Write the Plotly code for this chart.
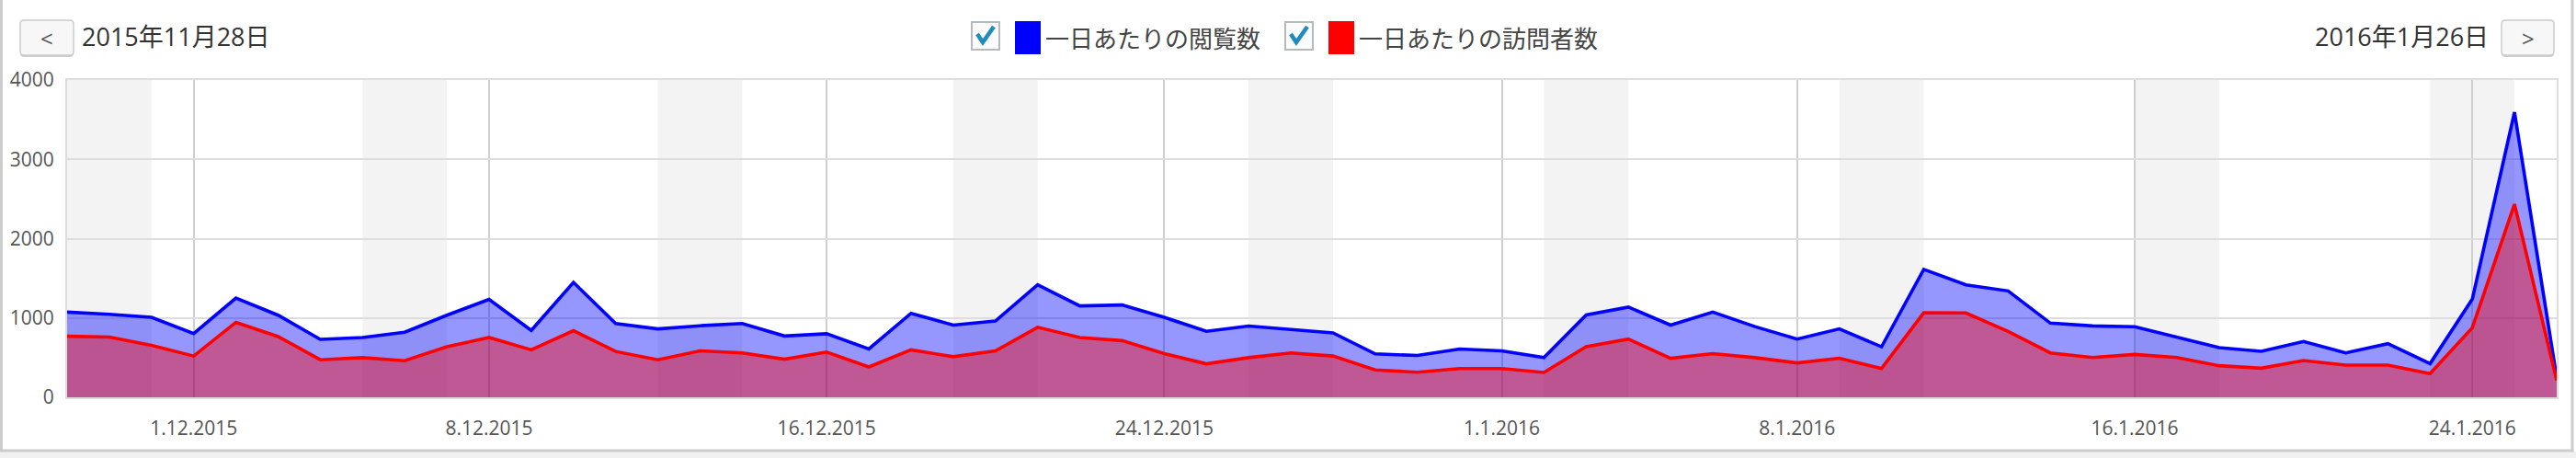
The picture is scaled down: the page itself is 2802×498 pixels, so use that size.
import plotly.graph_objects as go
import pandas as pd

# ---- data ----
dates = pd.date_range("2015-11-28", "2016-01-26", freq="D")

views = [1074, 1047, 1008, 805, 1250, 1035, 730, 754, 820, 1035, 1234, 844, 1449, 930, 863,
         902, 930, 773, 801, 609, 1059, 910, 961, 1418, 1152, 1164, 1008, 832, 898, 852,
         812, 547, 527, 609, 586, 500, 1039, 1137, 910, 1074, 891, 734, 863, 637, 1613,
         1418, 1341, 935, 900, 889, 761, 626, 580, 703, 560, 676, 425, 1237, 3594, 251]

visitors = [770, 760, 656, 520, 945, 766, 473, 500, 461, 637, 754, 598, 840, 578, 473,
            586, 559, 480, 570, 383, 598, 512, 586, 883, 754, 715, 551, 422, 500, 559,
            520, 344, 316, 363, 363, 313, 637, 734, 492, 551, 500, 434, 492, 363, 1066,
            1063, 831, 560, 502, 541, 502, 398, 367, 464, 406, 406, 298, 877, 2435, 213]

series_names = ["一日あたりの閲覧数", "一日あたりの訪問者数"]

tick_vals = ["2015-12-01", "2015-12-08", "2015-12-16", "2015-12-24",
             "2016-01-01", "2016-01-08", "2016-01-16", "2016-01-24"]
tick_text = ["1.12.2015", "8.12.2015", "16.12.2015", "24.12.2015",
             "1.1.2016", "8.1.2016", "16.1.2016", "24.1.2016"]

weekend_starts = ["2015-11-28", "2015-12-05", "2015-12-12", "2015-12-19", "2015-12-26",
                  "2016-01-02", "2016-01-09", "2016-01-16", "2016-01-23"]

start_label = "2015年11月28日"
end_label = "2016年1月26日"

# ---- geometry helpers (pixel -> paper) ----
W, H = 2802, 498
L, R, T, B = 73, 21, 87, 66
PW, PH = W - L - R, H - T - B


def px(x):
    return (x - L) / PW


def py(y):
    return (H - B - y) / PH


FONT = "Open Sans, Noto Sans CJK JP, sans-serif"

fig = go.Figure()
fig.add_trace(go.Scatter(
    x=dates, y=views, name=series_names[0], mode="lines",
    line=dict(color="#0000ff", width=3.6), fill="tozeroy",
    fillcolor="rgba(0,0,255,0.41)", hoverinfo="x+y"))
fig.add_trace(go.Scatter(
    x=dates, y=visitors, name=series_names[1], mode="lines",
    line=dict(color="#ff0000", width=3.6), fill="tozeroy",
    fillcolor="rgba(255,0,0,0.41)", hoverinfo="x+y"))

shapes = []
# weekend bands
for s in weekend_starts:
    e = (pd.Timestamp(s) + pd.Timedelta(days=2)).strftime("%Y-%m-%d")
    shapes.append(dict(type="rect", xref="x", yref="paper", x0=s, x1=e, y0=0, y1=1,
                       fillcolor="#f3f3f3", line=dict(width=0), layer="below"))

# outer frame
shapes.append(dict(type="rect", xref="paper", yref="paper", x0=px(-5), x1=px(W + 5),
                   y0=py(491), y1=py(H + 5), fillcolor="#f1f1f1", line=dict(width=0), layer="below"))
shapes.append(dict(type="line", xref="paper", yref="paper", x0=px(1.5), x1=px(1.5),
                   y0=py(-5), y1=py(491), line=dict(color="#cccccc", width=3)))
shapes.append(dict(type="line", xref="paper", yref="paper", x0=px(2798), x1=px(2798),
                   y0=py(-5), y1=py(491), line=dict(color="#cccccc", width=3)))
shapes.append(dict(type="line", xref="paper", yref="paper", x0=px(0), x1=px(2799.5),
                   y0=py(490), y1=py(490), line=dict(color="#cccccc", width=3)))


def rounded(x0, y0, x1, y1, r):
    pts = [
        f"M{px(x0 + r)},{py(y0)}", f"L{px(x1 - r)},{py(y0)}", f"Q{px(x1)},{py(y0)} {px(x1)},{py(y0 + r)}",
        f"L{px(x1)},{py(y1 - r)}", f"Q{px(x1)},{py(y1)} {px(x1 - r)},{py(y1)}",
        f"L{px(x0 + r)},{py(y1)}", f"Q{px(x0)},{py(y1)} {px(x0)},{py(y1 - r)}",
        f"L{px(x0)},{py(y0 + r)}", f"Q{px(x0)},{py(y0)} {px(x0 + r)},{py(y0)}", "Z"]
    return " ".join(pts)


# nav buttons
for bx0, bx1 in [(22, 80), (2721, 2778)]:
    shapes.append(dict(type="path", xref="paper", yref="paper", path=rounded(bx0, 24, bx1, 62, 4),
                       fillcolor="#cfcfcf", line=dict(width=0)))
    shapes.append(dict(type="path", xref="paper", yref="paper", path=rounded(bx0, 22, bx1, 60, 4),
                       fillcolor="#f7f7f7", line=dict(color="#cccccc", width=1.5)))

annotations = [
    dict(text="&lt;", x=px(51), y=py(41), xref="paper", yref="paper", showarrow=False,
         font=dict(family=FONT, size=24, color="#555555"), xanchor="center", yanchor="middle"),
    dict(text="&gt;", x=px(2749.5), y=py(41), xref="paper", yref="paper", showarrow=False,
         font=dict(family=FONT, size=24, color="#555555"), xanchor="center", yanchor="middle"),
    dict(text=start_label, x=px(87), y=py(40), xref="paper", yref="paper", showarrow=False,
         font=dict(family=FONT, size=27, color="#333333"), xanchor="left", yanchor="middle"),
    dict(text=end_label, x=px(2709), y=py(40), xref="paper", yref="paper", showarrow=False,
         font=dict(family=FONT, size=27, color="#333333"), xanchor="right", yanchor="middle"),
]

# legend (checkboxes + swatches)
legend_colors = ["#0000ff", "#ff0000"]
for k, (off, name) in enumerate(zip([0, 341], series_names)):
    cx0 = 1057 + off
    shapes.append(dict(type="rect", xref="paper", yref="paper", x0=px(cx0), x1=px(cx0 + 30),
                       y0=py(24), y1=py(54), fillcolor="#fbfbfb",
                       line=dict(color="#b4b9be", width=2)))
    shapes.append(dict(type="path", xref="paper", yref="paper",
                       path=f"M{px(cx0 + 6)},{py(37)} L{px(cx0 + 12)},{py(46)} L{px(cx0 + 24)},{py(29)}",
                       line=dict(color="#1e8cbe", width=4.5)))
    sx0 = 1104 + off
    shapes.append(dict(type="rect", xref="paper", yref="paper", x0=px(sx0), x1=px(sx0 + 28),
                       y0=py(23), y1=py(59), fillcolor=legend_colors[k], line=dict(width=0)))
    annotations.append(dict(text=name, x=px(sx0 + 31), y=py(42), xref="paper", yref="paper",
                            showarrow=False, xanchor="left", yanchor="middle",
                            font=dict(family=FONT, size=26, color="#444444")))

fig.update_layout(
    width=W, height=H, autosize=False,
    margin=dict(l=L, r=R, t=T, b=B, pad=0),
    paper_bgcolor="#ffffff", plot_bgcolor="#ffffff",
    showlegend=False,
    shapes=shapes, annotations=annotations,
    xaxis=dict(type="date", range=["2015-11-28", "2016-01-26"],
               tickvals=tick_vals, ticktext=tick_text, tickangle=0,
               showgrid=True, gridcolor="#cfcfcf", gridwidth=2,
               showline=True, linecolor="#dddddd", linewidth=2, mirror=True,
               ticks="", ticklabelstandoff=14,
               tickfont=dict(family=FONT, size=21, color="#555555"), zeroline=False),
    yaxis=dict(range=[0, 4000], tickvals=[0, 1000, 2000, 3000, 4000],
               showgrid=True, gridcolor="#dddddd", gridwidth=2,
               showline=True, linecolor="#dddddd", linewidth=2, mirror=True,
               ticks="", ticklabelstandoff=8,
               tickfont=dict(family=FONT, size=21, color="#555555"), zeroline=False),
)

fig.write_html("out.html", config={"displayModeBar": False},
               post_script="document.body.style.margin='0';document.body.style.overflow='hidden';")
